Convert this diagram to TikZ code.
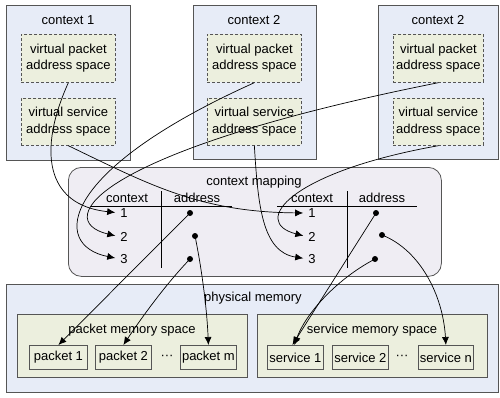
\documentclass[tikz,border=0pt]{standalone}
\usepackage{fontspec}
\setmainfont{Liberation Sans}
\usetikzlibrary{arrows.meta}
\definecolor{ctxfill}{RGB}{231,236,247}
\definecolor{vfill}{RGB}{236,239,222}
\definecolor{mapfill}{RGB}{239,237,243}
\definecolor{edgec}{RGB}{85,85,85}
\begin{document}
\begin{tikzpicture}[x=1pt,y=-1pt,
  font=\fontsize{13}{16.5}\selectfont,
  ctxbox/.style={draw=edgec, fill=ctxfill, line width=0.8pt, anchor=north west, inner sep=0pt},
  vbox/.style={draw=edgec, fill=vfill, line width=0.7pt, dash pattern=on 3pt off 2pt, anchor=north west, align=center, inner sep=0pt},
  cellbox/.style={draw=edgec, fill=vfill, line width=0.8pt, anchor=north west, inner sep=0pt},
  membox/.style={draw=edgec, fill=vfill, line width=0.8pt, anchor=north west, inner sep=0pt},
  txt/.style={inner sep=0pt},
  tline/.style={line width=0.8pt, black},
  conn/.style={line width=0.7pt, -{Latex[length=8pt,width=7pt]}},
  dotn/.style={circle, fill=black, inner sep=0pt, minimum size=6pt}
]
\useasboundingbox (0,0) rectangle (500,397);

% context boxes
\node[ctxbox, minimum width=124pt, minimum height=155pt] (c1) at (6,5) {};
\node[ctxbox, minimum width=123pt, minimum height=154pt] (c2) at (193,5) {};
\node[ctxbox, minimum width=120pt, minimum height=154pt] (c3) at (378,5) {};
\node[txt] (c1t) at (68,20) {context 1};
\node[txt] (c2t) at (254,20) {context 2};
\node[txt] (c3t) at (438,20) {context 2};

\node[vbox, minimum width=94pt, minimum height=48pt] (vp1) at (21,34) {virtual packet\\address space};
\node[vbox, minimum width=94pt, minimum height=47pt] (vs1) at (21,98) {virtual service\\address space};
\node[vbox, minimum width=94pt, minimum height=48pt] (vp2) at (207,34) {virtual packet\\address space};
\node[vbox, minimum width=94pt, minimum height=47pt] (vs2) at (207,98) {virtual service\\address space};
\node[vbox, minimum width=90pt, minimum height=48pt] (vp3) at (393,34) {virtual packet\\address space};
\node[vbox, minimum width=90pt, minimum height=47pt] (vs3) at (393,98) {virtual service\\address space};

% physical memory
\node[ctxbox, minimum width=492pt, minimum height=108pt] (pm) at (6,284) {};
\node[txt] (pmt) at (253,298) {physical memory};
\node[membox, minimum width=230pt, minimum height=63pt] (pms) at (17,314) {};
\node[membox, minimum width=230pt, minimum height=63pt] (sms) at (257,314) {};
\node[txt] (pmst) at (132,330) {packet memory space};
\node[txt] (smst) at (372,330) {service memory space};

\node[cellbox, minimum width=58pt, minimum height=24pt] (p1) at (29,345) {packet 1};
\node[cellbox, minimum width=56pt, minimum height=24pt] (p2) at (95,345) {packet 2};
\node[txt] (pdots) at (167,357) {···};
\node[cellbox, minimum width=56pt, minimum height=24pt] (pmm) at (180,345) {packet m};
\node[cellbox, minimum width=56pt, minimum height=24pt] (s1) at (267,345) {service 1};
\node[cellbox, minimum width=56pt, minimum height=24pt] (s2) at (332,345) {service 2};
\node[txt] (sdots) at (402,357) {···};
\node[cellbox, minimum width=55pt, minimum height=24pt] (sn) at (418,345) {service n};

% context mapping
\node[draw=edgec, fill=mapfill, line width=0.8pt, rounded corners=13pt, anchor=north west, minimum width=373pt, minimum height=109pt, inner sep=0pt] (map) at (68,167) {};
\node[txt] (mapt) at (254,182) {context mapping};

% left table
\coordinate (lh1) at (91,206);
\coordinate (lh2) at (232,206);
\coordinate (lv1) at (161,191);
\coordinate (lv2) at (161,268);
\draw[tline] (lh1) -- (lh2);
\draw[tline] (lv1) -- (lv2);
\node[txt] (lct) at (127,198) {context};
\node[txt] (lat) at (197,198) {address};
\node[txt] (l1) at (124,213) {1};
\node[txt] (l2) at (124,237) {2};
\node[txt] (l3) at (124,259) {3};
\node[dotn] (ld1) at (190,213) {};
\node[dotn] (ld2) at (195,236) {};
\node[dotn] (ld3) at (190,259) {};

% right table
\coordinate (rh1) at (277,206);
\coordinate (rh2) at (417,206);
\coordinate (rv1) at (347,191);
\coordinate (rv2) at (347,268);
\draw[tline] (rh1) -- (rh2);
\draw[tline] (rv1) -- (rv2);
\node[txt] (rct) at (312,198) {context};
\node[txt] (rat) at (382,198) {address};
\node[txt] (r1) at (312,213) {1};
\node[txt] (r2) at (312,237) {2};
\node[txt] (r3) at (312,259) {3};
\node[dotn] (rd1) at (376,213) {};
\node[dotn] (rd2) at (382,235) {};
\node[dotn] (rd3) at (375,259) {};

% connectors: virtual spaces to mapping rows
\draw[conn, shorten >=5pt] (vp1.south) .. controls (38,150) and (45,205) .. (l1.west);
\draw[conn, shorten >=5pt] (vs1.south) .. controls (150,185) and (200,212) .. (r1.west);
\draw[conn, shorten >=5pt] (vp2.south) .. controls (60,170) and (50,245) .. (l3.west);
\draw[conn, shorten >=5pt] (vp3.south) .. controls (100,150) and (50,220) .. (l2.west);
\draw[conn, shorten >=5pt] (vs2.south) .. controls (258,205) and (262,252) .. (r3.west);
\draw[conn, shorten >=5pt] (vs3.south) .. controls (290,172) and (250,222) .. (r2.west);

% connectors: mapping addresses to memory
\draw[conn] (ld1.center) -- (p1.north);
\draw[conn] (ld3.center) .. controls (165,285) and (140,320) .. (p2.north);
\draw[conn] (ld2.center) .. controls (202,270) and (207,310) .. (pmm.north);
\draw[conn] (rd1.center) -- ([xshift=-3pt]s1.north);
\draw[conn] (rd3.center) .. controls (335,280) and (305,315) .. ([xshift=-1pt]s1.north);
\draw[conn] (rd2.center) .. controls (420,250) and (443,295) .. (sn.north);
\end{tikzpicture}
\end{document}
